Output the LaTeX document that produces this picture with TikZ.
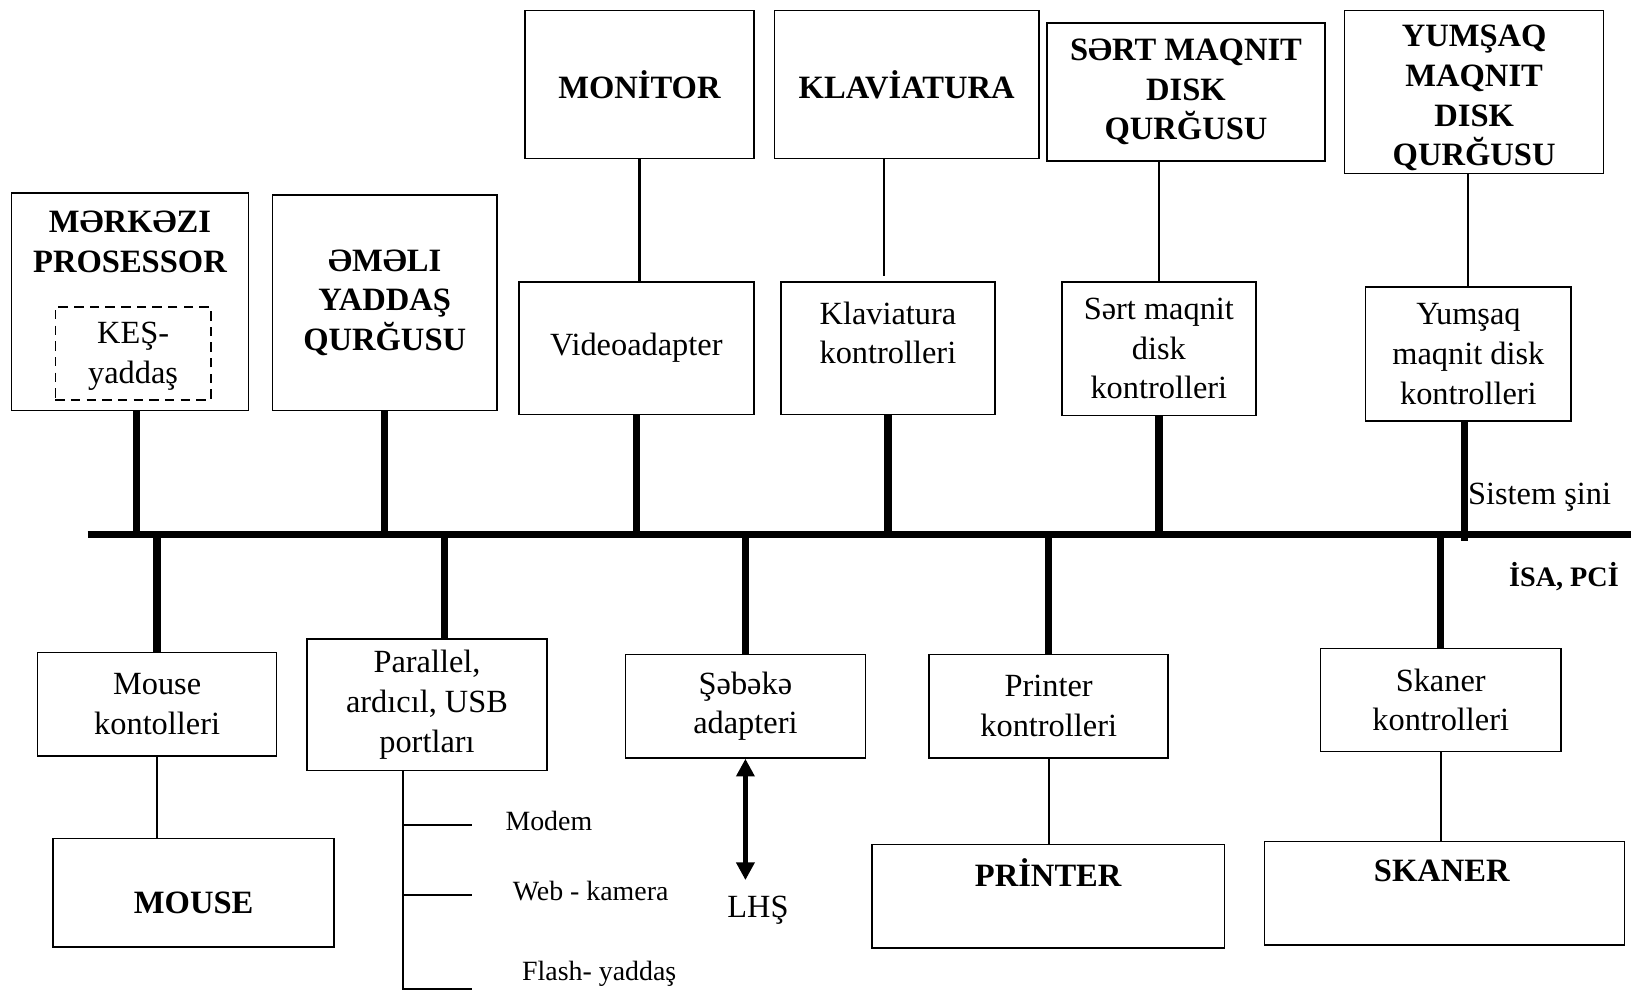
\documentclass[tikz,border=0pt]{standalone}
\usepackage{fontspec}
\setmainfont{Liberation Serif}
\usetikzlibrary{arrows.meta,calc}
\begin{document}
\begin{tikzpicture}[x=1pt,y=-1pt,
  box/.style={draw, line width=1.5pt, inner sep=0pt, align=center, font=\fontsize{31}{38}\selectfont},
  bbox/.style={box, font=\fontsize{31.2}{38}\selectfont\bfseries},
  txt/.style={inner sep=0pt, align=center, font=\fontsize{31}{38}\selectfont},
  btxt/.style={txt, font=\fontsize{31.2}{38}\selectfont\bfseries},
  small/.style={inner sep=0pt, anchor=west, font=\fontsize{26.7}{30}\selectfont},
  thinline/.style={line width=2pt},
  busline/.style={line width=7pt},
]
\useasboundingbox (0,0) rectangle (1568,949);

% top row
\node[bbox, minimum width=219, minimum height=142] (mon) at (612.5,81) {MONİTOR};
\node[bbox, minimum width=253, minimum height=142] (klav) at (868.5,81) {KLAVİATURA};
\node[bbox, minimum width=266, minimum height=132] (sert) at (1136,88) {SƏRT MAQNIT\\DISK\\QURĞUSU};
\node[box, minimum width=248, minimum height=156] (yum) at (1412,88) {};
\node[btxt] (yumt) at (1412,94) {YUMŞAQ\\MAQNIT\\DISK\\QURĞUSU};

% middle row
\node[box, minimum width=227, minimum height=208] (cpu) at (124.5,289) {};
\node[btxt] (cput) at (124.5,232) {MƏRKƏZI\\PROSESSOR};
\node[box, dashed, dash pattern=on 9pt off 6pt, minimum width=149, minimum height=89] (kes) at (127.5,338.5) {};
\node[txt] (kest) at (127.5,341) {KEŞ-\\yaddaş};
\node[bbox, minimum width=215, minimum height=206] (mem) at (368.5,290) {ƏMƏLI\\YADDAŞ\\QURĞUSU};
\node[box, minimum width=225, minimum height=127] (vid) at (609.5,333.5) {Videoadapter};
\node[box, minimum width=205, minimum height=127] (kk) at (850.5,333.5) {};
\node[txt] (kkt) at (850.5,319) {Klaviatura\\kontrolleri};
\node[box, minimum width=186, minimum height=128] (sk1) at (1110,334) {Sərt maqnit\\disk\\kontrolleri};
\node[box, minimum width=197, minimum height=128] (yk) at (1406.5,339) {Yumşaq\\maqnit disk\\kontrolleri};

% bottom row
\node[box, minimum width=229, minimum height=99] (mk) at (150.5,674.5) {Mouse\\kontolleri};
\node[box, minimum width=230, minimum height=126] (par) at (409,675) {Parallel,\\ardıcıl, USB\\portları};
\node[box, minimum width=230, minimum height=99] (net) at (714,676.5) {Şəbəkə\\adapteri};
\node[box, minimum width=229, minimum height=99] (pk) at (1004.5,676.5) {Printer\\kontrolleri};
\node[box, minimum width=230, minimum height=99] (sck) at (1380,670.5) {Skaner\\kontrolleri};

\node[box, minimum width=269, minimum height=104] (mouse) at (185.5,855) {};
\node[btxt] (mouset) at (185.5,865) {MOUSE};
\node[box, minimum width=338, minimum height=99] (printer) at (1004,858.5) {};
\node[btxt] (printert) at (1004,836) {PRİNTER};
\node[box, minimum width=345, minimum height=99] (skaner) at (1383.5,855.5) {};
\node[btxt] (skanert) at (1381,834) {SKANER};

% bus
\coordinate (busL) at (84,512);
\coordinate (busR) at (1562,512);
\draw[busline] (busL) -- (busR);
\node[txt, anchor=west] (sis) at (1406,476) {Sistem şini};
\node[inner sep=0pt, font=\fontsize{27}{30}\selectfont\bfseries] (isa) at (1498,552) {İSA, PCİ};

% thin connectors top
\draw[thinline] (mon.south) -- (mon.south |- vid.north);
\coordinate (klavC) at (847,264);
\draw[thinline] (klav.south -| klavC) -- (klavC);
\draw[thinline] (sk1.north) -- (sk1.north |- sert.south);
\draw[thinline] (yk.north) -- (yk.north |- yum.south);

% stubs above bus
\coordinate (s1) at (131,512);
\draw[busline] (s1 |- cpu.south) -- (s1);
\draw[busline] (mem.south) -- (mem.south |- busL);
\draw[busline] (vid.south) -- (vid.south |- busL);
\draw[busline] (kk.south) -- (kk.south |- busL);
\draw[busline] (sk1.south) -- (sk1.south |- busL);
\coordinate (s6) at (1403,518);
\draw[busline] (s6 |- yk.south) -- (s6);

% stubs below bus
\draw[busline] (mk.north |- busL) -- (mk.north);
\coordinate (s8) at (426,509);
\draw[busline] (s8) -- (s8 |- par.north);
\draw[busline] (net.north |- busL) -- (net.north);
\draw[busline] (pk.north |- busL) -- (pk.north);
\draw[busline] (sck.north |- busL) -- (sck.north);

% bottom thin connectors
\draw[thinline] (mk.south) -- (mk.south |- mouse.north);
\draw[thinline] (pk.south) -- (pk.south |- printer.north);
\draw[thinline] (sck.south) -- (sck.south |- skaner.north);

% parallel branches
\coordinate (pv) at (386,947);
\coordinate (b1) at (452,790);
\coordinate (b2) at (452,857);
\coordinate (b3) at (452,947);
\draw[line width=1.6pt] (pv |- par.south) -- (pv) -- (b3);
\draw[line width=1.6pt] (b1 -| pv) -- (b1);
\draw[line width=1.6pt] (b2 -| pv) -- (b2);
\node[small] (modem) at (484,786) {Modem};
\node[small] (web) at (491,853) {Web - kamera};
\node[small] (flash) at (500,933) {Flash- yaddaş};

% network arrow
\coordinate (arrEnd) at (714,843);
\draw[line width=5pt, {Triangle[width=17pt,length=17pt]}-{Triangle[width=17pt,length=17pt]}] (net.south) -- (arrEnd);
\node[txt] (lhs) at (726,872) {LHŞ};
\end{tikzpicture}
\end{document}
